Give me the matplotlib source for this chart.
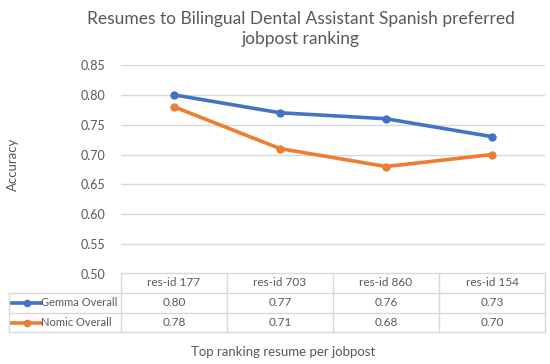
import matplotlib
matplotlib.use("Agg")
import matplotlib.pyplot as plt
from matplotlib.lines import Line2D
import matplotlib.transforms as mtrans

categories = ["res-id 177", "res-id 703", "res-id 860", "res-id 154"]
gemma = [0.80, 0.77, 0.76, 0.73]
nomic = [0.78, 0.71, 0.68, 0.70]
series_names = ["Gemma Overall", "Nomic Overall"]
yticks = [0.50, 0.55, 0.60, 0.65, 0.70, 0.75, 0.80, 0.85]

BLUE = "#4472C4"
ORANGE = "#ED7D31"
TXT = "#595959"
GRID = "#D9D9D9"
FONT = ["Lato", "DejaVu Sans"]
FS = 8.5

W, H = 550, 364
fig = plt.figure(figsize=(W / 100, H / 100), dpi=100)

def fx(px):
    return px / W

def fy(py):
    return 1 - py / H

ax_l, ax_r, ax_t, ax_b = 121, 545, 65, 274
ax = fig.add_axes([fx(ax_l), fy(ax_b), fx(ax_r - ax_l), (ax_b - ax_t) / H])
xs = list(range(len(categories)))
ax.plot(xs, gemma, color=BLUE, lw=2.6, marker="o", ms=5, solid_capstyle="round", zorder=3)
ax.plot(xs, nomic, color=ORANGE, lw=2.6, marker="o", ms=5, solid_capstyle="round", zorder=3)
ax.set_xlim(-0.5, len(categories) - 0.5)
ax.set_ylim(0.50, 0.85)
ax.set_yticks(yticks)
ax.set_yticklabels([f"{v:.2f}" for v in yticks], fontfamily=FONT, fontsize=9, color=TXT)
ax.tick_params(axis="y", length=0, pad=11)
ax.set_xticks([])
ax.grid(axis="y", color=GRID, lw=1)
ax.set_axisbelow(True)
for s in ax.spines.values():
    s.set_visible(False)

# Data table
rows = [273, 293, 313, 332]
left = 9
tr = mtrans.blended_transform_factory(ax.transData, fig.transFigure)
lc = dict(color=GRID, lw=1, transform=fig.transFigure)
fig.add_artist(Line2D([fx(ax_l), fx(ax_r)], [fy(rows[0])] * 2, **lc))
for r in rows[1:]:
    fig.add_artist(Line2D([fx(left), fx(ax_r)], [fy(r)] * 2, **lc))
fig.add_artist(Line2D([fx(left)] * 2, [fy(rows[1]), fy(rows[3])], **lc))
for i in range(len(categories) + 1):
    xb = i - 0.5
    fig.add_artist(Line2D([xb, xb], [fy(rows[0]), fy(rows[3])], color=GRID, lw=1, transform=tr))

for i, c in enumerate(categories):
    fig.text(i, fy((rows[0] + rows[1]) / 2), c, transform=tr, fontfamily=FONT, fontsize=FS,
             color=TXT, ha="center", va="center")
for vals, ri in ((gemma, 1), (nomic, 2)):
    yc = fy((rows[ri] + rows[ri + 1]) / 2)
    for i, v in enumerate(vals):
        fig.text(i, yc, f"{v:.2f}", transform=tr, fontfamily=FONT, fontsize=FS,
                 color=TXT, ha="center", va="center")

for name, col, ri in ((series_names[0], BLUE, 1), (series_names[1], ORANGE, 2)):
    yc = fy((rows[ri] + rows[ri + 1]) / 2)
    fig.add_artist(Line2D([fx(12), fx(41)], [yc, yc], color=col, lw=2.6,
                          transform=fig.transFigure))
    fig.add_artist(Line2D([fx(26.5)], [yc], color=col, marker="o", ms=4.5,
                          transform=fig.transFigure))
    fig.text(fx(41), yc, name, fontfamily=FONT, fontsize=8, color=TXT,
             ha="left", va="center")

fig.text(fx(301), fy(29), "Resumes to Bilingual Dental Assistant Spanish preferred\njobpost ranking",
         fontfamily=FONT, fontsize=12.5, color=TXT, ha="center", va="center", linespacing=1.3)
fig.text(fx(283), fy(352), "Top ranking resume per jobpost", fontfamily=FONT, fontsize=9.5,
         color=TXT, ha="center", va="center")
fig.text(fx(13), fy(164), "Accuracy", fontfamily=FONT, fontsize=9.5, color=TXT,
         ha="center", va="center", rotation=90)

fig.savefig("out.png", dpi=100, facecolor="white")
